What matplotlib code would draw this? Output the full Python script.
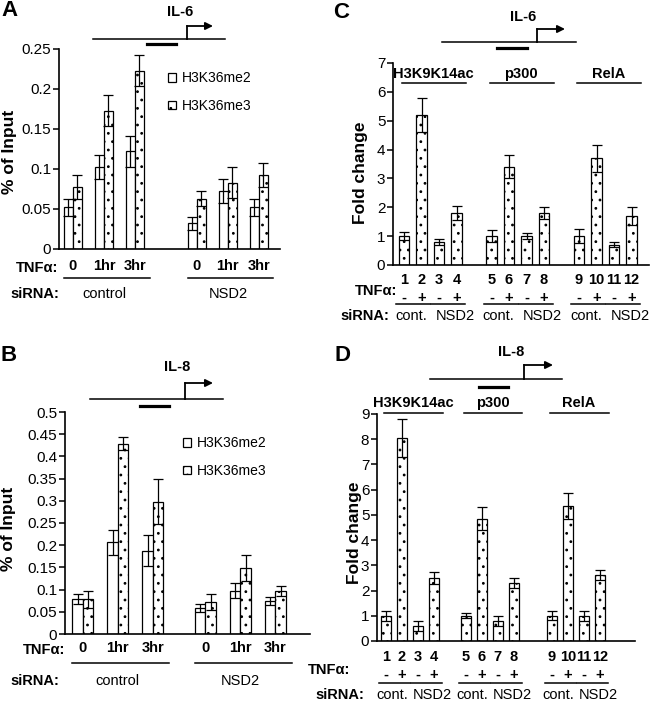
import matplotlib
matplotlib.use("Agg")
import matplotlib.pyplot as plt
import numpy as np
from matplotlib import transforms
from matplotlib.lines import Line2D
from matplotlib.patches import Patch, FancyArrowPatch
from matplotlib.ticker import FuncFormatter

plt.rcParams['font.family'] = ['Liberation Sans', 'DejaVu Sans']
plt.rcParams['hatch.linewidth'] = 0.8

# A / B : % of input, H3K36me2 (white) and H3K36me3 (dotted)
times = ['0', '1hr', '3hr', '0', '1hr', '3hr']
sirna_ab = ['control', 'NSD2']
series_ab = ['H3K36me2', 'H3K36me3']
il6_me2 = [0.052, 0.103, 0.122, 0.032, 0.072, 0.052]
il6_me2_err = [0.011, 0.015, 0.019, 0.008, 0.015, 0.011]
il6_me3 = [0.077, 0.173, 0.223, 0.063, 0.083, 0.092]
il6_me3_err = [0.015, 0.019, 0.019, 0.009, 0.019, 0.015]
il8_me2 = [0.078, 0.207, 0.188, 0.058, 0.097, 0.075]
il8_me2_err = [0.011, 0.028, 0.034, 0.009, 0.017, 0.009]
il8_me3 = [0.078, 0.429, 0.298, 0.072, 0.148, 0.097]
il8_me3_err = [0.019, 0.014, 0.050, 0.019, 0.029, 0.011]

# C / D : fold change, 12 lanes
lanes = [str(i) for i in range(1, 13)]
tnf = ['-', '+'] * 6
sirna_cd = ['cont.', 'NSD2'] * 3
targets = ['H3K9K14ac', 'p300', 'RelA']
il6_fold = [1.0, 5.2, 0.8, 1.8, 1.0, 3.4, 1.0, 1.8, 1.0, 3.7, 0.7, 1.7]
il6_fold_err = [0.13, 0.6, 0.1, 0.25, 0.2, 0.4, 0.1, 0.2, 0.25, 0.47, 0.09, 0.3]
il8_fold = [1.0, 8.05, 0.6, 2.5, 1.0, 4.85, 0.8, 2.3, 1.0, 5.35, 1.0, 2.6]
il8_fold_err = [0.2, 0.75, 0.2, 0.25, 0.1, 0.45, 0.2, 0.2, 0.17, 0.5, 0.2, 0.2]

W, H = 650, 703
fig = plt.figure(figsize=(6.5, 7.03), dpi=100)
FS = 10.5


def fx(x):
    return x / W


def fy(y):
    return 1 - y / H


def px_axes(l, r, b, t):
    return fig.add_axes([fx(l), fy(b), (r - l) / W, (b - t) / H])


def fline(x0, x1, y0, y1=None, lw=1.1):
    y1 = y0 if y1 is None else y1
    fig.add_artist(Line2D([fx(x0), fx(x1)], [fy(y0), fy(y1)], color='black',
                          lw=lw, transform=fig.transFigure))


def ftext(x, y, s, ha='center', **kw):
    fig.text(fx(x), fy(y), s, ha=ha, va='center', **kw)


def gene(x0, x1, y, b0, b1, by, ax_, ay, tip, name, nx, ny):
    fline(x0, x1, y)
    fline(b0, b1, by, lw=2.3)
    fline(ax_, ax_, y, ay, lw=1.3)
    fig.add_artist(FancyArrowPatch((fx(ax_), fy(ay)), (fx(tip), fy(ay)),
                                   arrowstyle='-|>', mutation_scale=11, lw=1.3,
                                   color='black', shrinkA=0, shrinkB=0,
                                   transform=fig.transFigure))
    ftext(nx, ny, name, fontsize=FS, fontweight='bold')


def style(ax, ymax, step):
    ax.set_ylim(0, ymax)
    ax.set_yticks(np.arange(0, ymax + step / 2, step))
    ax.yaxis.set_major_formatter(FuncFormatter(lambda v, _: f'{v:g}'))
    ax.set_xticks([])
    for s in ['top', 'right']:
        ax.spines[s].set_visible(False)
    for s in ['left', 'bottom']:
        ax.spines[s].set_linewidth(1.2)
    ax.tick_params(axis='y', length=4, width=1.1, pad=1.5, labelsize=11)


ekw = dict(elinewidth=0.9, capthick=0.9, ecolor='black')


def panel_ab(ax, pos, me2, me2e, me3, me3e, w, y_tnf, y_line, y_si, x_tnf, x_si,
             leg_xy):
    ax.bar(pos - w / 2, me2, w, yerr=me2e, color='white', edgecolor='black',
           linewidth=0.9, capsize=3.5, error_kw=ekw)
    ax.bar(pos + w / 2, me3, w, yerr=me3e, color='white', edgecolor='black',
           linewidth=0.9, hatch='..', capsize=3.5, error_kw=ekw)
    bt = transforms.blended_transform_factory(ax.transData, fig.transFigure)
    ftext(x_tnf, y_tnf, 'TNFα:', ha='right', fontsize=FS, fontweight='bold')
    ftext(x_si, y_si, 'siRNA:', ha='right', fontsize=FS, fontweight='bold')
    for p, t in zip(pos, times):
        ax.text(p, fy(y_tnf - 2), t, transform=bt, ha='center', va='center',
                fontsize=FS, fontweight='bold')
    for g, name in enumerate(sirna_ab):
        gp = pos[g * 3:(g + 1) * 3]
        fig.add_artist(Line2D([gp[0] - 0.3, gp[-1] + 0.47], [fy(y_line)] * 2,
                              color='black', lw=1.1, transform=bt))
        ax.text(gp.mean(), fy(y_si), name, transform=bt, ha='center',
                va='center', fontsize=FS)
    handles = [Patch(facecolor='white', edgecolor='black', lw=0.9),
               Patch(facecolor='white', edgecolor='black', lw=0.9, hatch='..')]
    ax.legend(handles, series_ab, loc='upper left',
              bbox_to_anchor=(fx(leg_xy[0]), fy(leg_xy[1])),
              bbox_transform=fig.transFigure, frameon=False, fontsize=10,
              handlelength=0.6, handleheight=0.6, handletextpad=0.4,
              labelspacing=1.0, borderpad=0, borderaxespad=0)


def fold_pos(bases):
    idx = np.arange(12)
    return np.array(bases)[idx // 4] + (idx % 4) // 2 * 2 + idx % 2


def panel_cd(ax, pos, vals, errs, w, ys, x_tnf, x_si):
    y_num, y_tnf, y_sign, y_line, y_si, y_grp, y_gline = ys
    ax.bar(pos, vals, w, yerr=errs, color='white', edgecolor='black',
           linewidth=0.9, hatch='..', capsize=3.5, error_kw=ekw)
    bt = transforms.blended_transform_factory(ax.transData, fig.transFigure)
    ftext(x_tnf, y_tnf, 'TNFα:', ha='right', fontsize=FS, fontweight='bold')
    ftext(x_si, y_si, 'siRNA:', ha='right', fontsize=FS, fontweight='bold')
    for p, n, s in zip(pos, lanes, tnf):
        ax.text(p, fy(y_num), n, transform=bt, ha='center', va='center',
                fontsize=FS, fontweight='bold')
        ax.text(p, fy(y_sign), s, transform=bt, ha='center', va='center',
                fontsize=FS, fontweight='bold')
    for k, name in enumerate(sirna_cd):
        a, b = pos[2 * k], pos[2 * k + 1]
        fig.add_artist(Line2D([a - 0.45, b + 0.5], [fy(y_line)] * 2,
                              color='black', lw=1.1, transform=bt))
        shift = -0.1 if k % 2 == 0 else 0.42
        ax.text((a + b) / 2 + shift, fy(y_si), name, transform=bt, ha='center',
                va='center', fontsize=FS)
    for g, name in enumerate(targets):
        a, b = pos[4 * g], pos[4 * g + 3]
        fig.add_artist(Line2D([a - 0.1, b + 0.55], [fy(y_gline)] * 2,
                              color='black', lw=1.1, transform=bt))
        ax.text((a + b) / 2 + 0.2, fy(y_grp), name, transform=bt, ha='center',
                va='center', fontsize=FS, fontweight='bold')


# ---- A ----
axA = px_axes(59, 280, 249, 49)
posA = np.r_[np.arange(3), np.arange(3) + 4.0]
style(axA, 0.25, 0.05)
axA.set_xlim(-0.45, 6.68)
panel_ab(axA, posA, il6_me2, il6_me2_err, il6_me3, il6_me3_err, 0.29,
         268, 278, 294, 58, 59, (168, 71))
gene(93, 225, 39, 147, 176, 44, 187, 26, 213, 'IL-6', 180, 12)
ftext(9, 11, 'A', fontsize=16, fontweight='bold')
ftext(10, 152, '% of Input', rotation=90, fontsize=12.5, fontweight='bold')

# ---- B ----
axB = px_axes(65, 310, 634, 412)
posB = np.r_[np.arange(3), np.arange(3) + 3.5]
style(axB, 0.5, 0.05)
axB.set_xlim(-0.51, 6.49)
panel_ab(axB, posB, il8_me2, il8_me2_err, il8_me3, il8_me3_err, 0.3,
         650, 663, 681, 65, 59, (183, 436))
gene(90, 223, 399, 140, 169, 406, 185, 383, 213, 'IL-8', 177, 367)
ftext(9, 355, 'B', fontsize=16, fontweight='bold')
ftext(9, 529, '% of Input', rotation=90, fontsize=12.5, fontweight='bold')

# ---- C ----
axC = px_axes(393, 649, 265, 63)
posC = fold_pos([0, 5, 10])
style(axC, 7, 1)
axC.set_xlim(-0.63, 14.0)
panel_cd(axC, posC, il6_fold, il6_fold_err, 0.6,
         (280, 291, 298, 304, 316, 74, 83), 397, 389)
gene(442, 576, 42, 497, 527, 48, 537, 29, 565, 'IL-6', 523, 17)
ftext(341, 12, 'C', fontsize=16, fontweight='bold')
ftext(361, 173, 'Fold change', rotation=90, fontsize=12.5, fontweight='bold')

# ---- D ----
axD = px_axes(377, 635, 641, 414)
posD = fold_pos([0, 5, 10.4])
style(axD, 9, 1)
axD.set_xlim(-0.56, 15.6)
panel_cd(axD, posD, il8_fold, il8_fold_err, 0.62,
         (657, 670, 675, 683, 695, 403, 413), 350, 364)
gene(430, 562, 379, 479, 508, 387, 524, 365, 553, 'IL-8', 511, 352)
ftext(343, 355, 'D', fontsize=16, fontweight='bold')
ftext(354, 533, 'Fold change', rotation=90, fontsize=12.5, fontweight='bold')

fig.savefig('out.png', dpi=100)
